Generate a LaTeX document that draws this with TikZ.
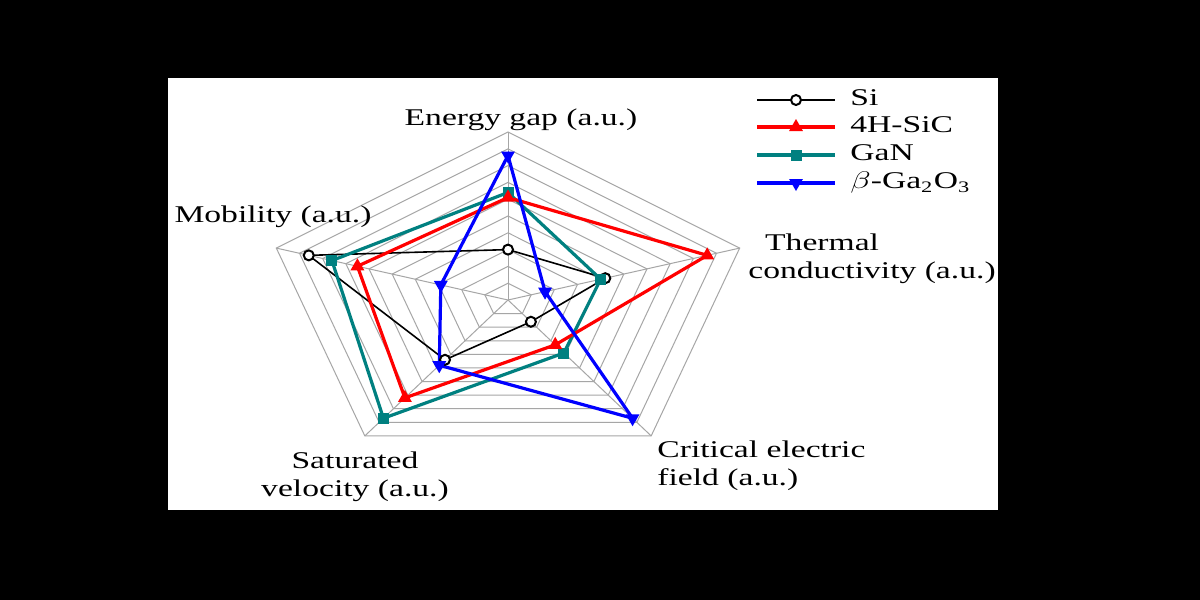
\documentclass[tikz,border=0pt]{standalone}
\usepackage{fontspec}
\usepackage{graphicx}
\setmainfont{Liberation Serif}
\usetikzlibrary{shapes.geometric}
\newcommand\wide[2][c]{\scalebox{1.4}[1]{\begin{tabular}{@{}#1@{}}#2\end{tabular}}}
\begin{document}
\begin{tikzpicture}[x=0.5pt,y=-0.5pt,
  grid/.style={draw=gray!70,line width=0.5pt},
  lab/.style={font=\fontsize{12}{14}\selectfont,inner sep=0pt},
  si/.style={draw=black,line width=0.8pt},
  sic/.style={draw=red,line width=1.6pt},
  gan/.style={draw=teal,line width=1.6pt},
  gao/.style={draw=blue,line width=1.6pt},
  mcirc/.style={circle,draw=black,fill=white,line width=1pt,inner sep=0pt,minimum size=5pt},
  mtri/.style={regular polygon,regular polygon sides=3,fill=red,inner sep=0pt,minimum size=8pt},
  msq/.style={rectangle,fill=teal,inner sep=0pt,minimum size=5.5pt},
  mitri/.style={regular polygon,regular polygon sides=3,shape border rotate=180,fill=blue,inner sep=0pt,minimum size=8pt}]
\fill[black] (0,0) rectangle (1200,600);
\fill[white] (168,78) rectangle (998,510);
\useasboundingbox (0,0) rectangle (1200,600);
\def\P(#1,#2){({508+243.6*#1*cos(#2)},{300-168*#1*sin(#2)})}
\foreach \r in {0.1,0.2,...,1.01}{
  \draw[grid] \P(\r,90) -- \P(\r,18) -- \P(\r,-54) -- \P(\r,-126) -- \P(\r,162) -- cycle;}
\foreach \a in {90,18,-54,-126,162}{\draw[grid] (508,300) -- \P(1,\a);}
\newcommand\series[6]{%
  \draw[#1] \P(#2,90) coordinate(#1a) -- \P(#3,18) coordinate(#1b) -- \P(#4,-54) coordinate(#1c) -- \P(#5,-126) coordinate(#1d) -- \P(#6,162) coordinate(#1e) -- cycle;}
\series{si}{0.30}{0.42}{0.16}{0.44}{0.86}
\series{gan}{0.64}{0.40}{0.39}{0.87}{0.76}
\series{sic}{0.61}{0.86}{0.33}{0.72}{0.65}
\series{gao}{0.86}{0.16}{0.87}{0.48}{0.29}
\foreach \k in {a,b,c,d,e}{
  \node[mcirc] at (si\k) {};
  \node[msq] at (gan\k) {};
  \node[mtri] at (sic\k) {};
  \node[mitri] at (gao\k) {};}
\node[lab] (eg) at (521,120) {\wide{Energy gap (a.u.)}};
\node[lab] (mo) at (273,217) {\wide{Mobility (a.u.)}};
\node[lab,anchor=west] (tc) at (748,259) {\wide[l]{\hspace*{6pt}Thermal\\conductivity (a.u.)}};
\node[lab,anchor=west] (ce) at (657,466) {\wide[l]{Critical electric\\field (a.u.)}};
\node[lab] (sv) at (355,477) {\wide{Saturated\\velocity (a.u.)}};
\foreach \y/\st/\mk/\t/\n in {100/si/mcirc/Si/l1,127/sic/mtri/4H-SiC/l2,155/gan/msq/GaN/l3,183/gao/mitri/{$\beta$-Ga\textsubscript{2}O\textsubscript{3}}/l4}{
  \coordinate (\n a) at (757,\y); \coordinate (\n b) at (835,\y);
  \draw[\st] (\n a) -- (\n b);
  \node[\mk] at (796,\y) {};
  \node[lab,anchor=west] (\n t) at (850,\y) {\wide{\t}};}
\end{tikzpicture}
\end{document}
